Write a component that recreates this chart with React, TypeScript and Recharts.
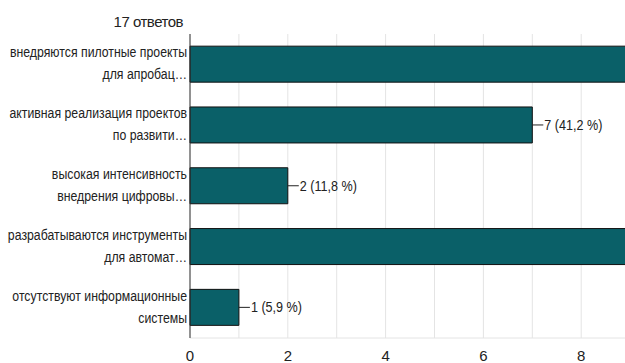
import { BarChart, Bar, XAxis, YAxis, CartesianGrid, LabelList } from 'recharts';

// Responses per option (multiple choice, 17 respondents)
const TOTAL_RESPONSES = 17;

const categories = [
  'внедряются пилотные проекты\nдля апробац…',
  'активная реализация проектов\nпо развити…',
  'высокая интенсивность\nвнедрения цифровы…',
  'разрабатываются инструменты\nдля автомат…',
  'отсутствуют информационные\nсистемы',
];

const counts = [10, 7, 2, 9, 1];

const xTicks = [0, 1, 2, 3, 4, 5, 6, 7, 8, 9, 10];

const data = categories.map((label, i) => ({ label, count: counts[i] }));

const FONT = '"Liberation Sans", Arial, sans-serif';
const TEXT = '#222';
const BAR_FILL = '#0a6068';
const GRID = '#e4e4e4';

function pct(v: number) {
  return ((v / TOTAL_RESPONSES) * 100).toFixed(1).replace('.', ',');
}

// narrow text by squeezing it horizontally around its anchor point
function squeeze(x: number, y: number, k: number) {
  return `translate(${x} ${y}) scale(${k} 1)`;
}

function CategoryTick(props: any) {
  const { x, y, payload } = props;
  const lines = String(payload.value).split('\n');
  return (
    <g>
      {lines.map((line, i) => (
        <text
          key={i}
          transform={squeeze(x, y + (lines.length === 1 ? 5 : i === 0 ? -7 : 15), 0.82)}
          textAnchor="end"
          fill={TEXT}
          fontSize={15}
          fontFamily={FONT}
        >
          {line}
        </text>
      ))}
    </g>
  );
}

function ValueTick(props: any) {
  const { x, y, payload } = props;
  if (payload.value % 2 !== 0) return null;
  return (
    <text x={x} y={y + 23} textAnchor="middle" fill={TEXT} fontSize={15} fontFamily={FONT}>
      {payload.value}
    </text>
  );
}

function ValueLabel(props: any) {
  const { x, y, width, height, value } = props;
  const endX = x + width;
  const midY = y + height / 2;
  return (
    <g>
      <line x1={endX} y1={midY} x2={endX + 11} y2={midY} stroke={TEXT} strokeWidth={1} />
      <text transform={squeeze(endX + 12, midY + 5, 0.84)} fill={TEXT} fontSize={15} fontFamily={FONT}>
        {`${value} (${pct(value)} %)`}
      </text>
    </g>
  );
}

export default function App() {
  return (
    <div
      style={{
        position: 'absolute',
        left: 0,
        top: 0,
        width: 625,
        height: 363,
        overflow: 'hidden',
        background: '#fff',
        fontFamily: FONT,
      }}
    >
      <div
        style={{
          position: 'absolute',
          left: 0,
          top: 13,
          width: 183,
          textAlign: 'right',
          fontSize: 15,
          lineHeight: '18px',
          letterSpacing: -0.5,
          color: TEXT,
        }}
      >
        {TOTAL_RESPONSES} ответов
      </div>
      <BarChart
        width={700}
        height={363}
        layout="vertical"
        data={data}
        margin={{ top: 34, right: 21, bottom: 0, left: 0 }}
        barCategoryGap="20%"
      >
        <CartesianGrid horizontal={false} stroke={GRID} />
        <XAxis
          type="number"
          domain={[0, 10]}
          ticks={xTicks}
          interval={0}
          height={25}
          tickLine={false}
          tickSize={0}
          tickMargin={0}
          axisLine={{ stroke: GRID }}
          tick={<ValueTick />}
        />
        <XAxis
          xAxisId="top"
          orientation="top"
          type="number"
          domain={[0, 10]}
          height={0}
          tick={false}
          tickLine={false}
          axisLine={{ stroke: GRID }}
        />
        <YAxis
          type="category"
          dataKey="label"
          width={190}
          interval={0}
          tickLine={false}
          tickSize={0}
          tickMargin={3}
          axisLine={{ stroke: '#333' }}
          tick={<CategoryTick />}
        />
        <Bar dataKey="count" fill={BAR_FILL} stroke="#111" strokeWidth={1} isAnimationActive={false}>
          <LabelList dataKey="count" content={<ValueLabel />} />
        </Bar>
      </BarChart>
    </div>
  );
}
